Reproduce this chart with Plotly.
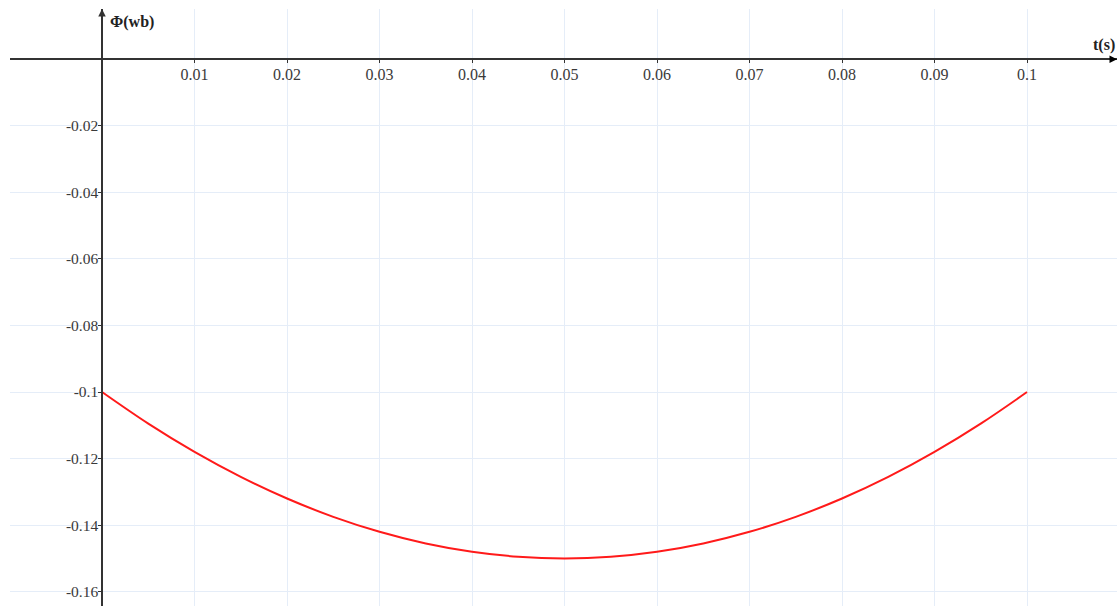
import plotly.graph_objects as go

# Data
t_vals = [0.0, 0.005, 0.01, 0.015, 0.02, 0.025, 0.03, 0.035, 0.04, 0.045, 0.05,
          0.055, 0.06, 0.065, 0.07, 0.075, 0.08, 0.085, 0.09, 0.095, 0.1]
phi_vals = [-0.1, -0.1095, -0.118, -0.1255, -0.132, -0.1375, -0.142, -0.1455, -0.148, -0.1495, -0.15,
            -0.1495, -0.148, -0.1455, -0.142, -0.1375, -0.132, -0.1255, -0.118, -0.1095, -0.1]

x_ticks = [0.01, 0.02, 0.03, 0.04, 0.05, 0.06, 0.07, 0.08, 0.09, 0.1]
x_tick_text = ["0.01", "0.02", "0.03", "0.04", "0.05", "0.06", "0.07", "0.08", "0.09", "0.1"]
y_ticks = [-0.02, -0.04, -0.06, -0.08, -0.1, -0.12, -0.14, -0.16]
y_tick_text = ["-0.02", "-0.04", "-0.06", "-0.08", "-0.1", "-0.12", "-0.14", "-0.16"]

x_range = [-0.00995, 0.10973]
y_range = [-0.1643, 0.01512]

x_pos = (0 - x_range[0]) / (x_range[1] - x_range[0])
y_pos = (0 - y_range[0]) / (y_range[1] - y_range[0])

font_serif = "Liberation Serif, Times New Roman, serif"
grid_col = "#e5edf8"
axis_col = "#333333"

fig = go.Figure()
fig.add_trace(go.Scatter(x=t_vals, y=phi_vals, mode="lines",
                         line=dict(color="#ff1a1a", width=2, shape="spline"),
                         hoverinfo="skip", showlegend=False))

fig.update_layout(
    width=1119, height=606,
    margin=dict(l=10, r=2, t=9, b=0),
    paper_bgcolor="white", plot_bgcolor="white",
    font=dict(family=font_serif, size=15, color="#333333"),
    xaxis=dict(range=x_range, anchor="free", position=y_pos,
               tickvals=x_ticks, ticktext=x_tick_text,
               showgrid=True, gridcolor=grid_col, gridwidth=1,
               zeroline=False, showline=True, linecolor=axis_col, linewidth=1.5,
               ticks="outside", ticklen=3, tickcolor=axis_col, ticklabelstandoff=-2,
               tickfont=dict(family=font_serif, size=16, color="#3a3a3a")),
    yaxis=dict(range=y_range, anchor="free", position=x_pos,
               tickvals=y_ticks, ticktext=y_tick_text,
               showgrid=True, gridcolor=grid_col, gridwidth=1,
               zeroline=False, showline=True, linecolor=axis_col, linewidth=1.5,
               ticks="outside", ticklen=3, tickcolor=axis_col, ticklabelstandoff=-3,
               tickfont=dict(family=font_serif, size=15.5, color="#3a3a3a")),
    annotations=[
        dict(text="<b>Φ(wb)</b>", x=0, y=1, xref="x", yref="paper",
             xanchor="left", yanchor="top", xshift=6, yshift=-2, showarrow=False,
             font=dict(family=font_serif, size=16, color="#222222")),
        dict(text="<b>t(s)</b>", x=1, y=0, xref="paper", yref="y",
             xanchor="right", yanchor="bottom", xshift=0, yshift=3, showarrow=False,
             font=dict(family=font_serif, size=16, color="#222222")),
        dict(x=0, y=1, xref="x", yref="paper", ax=0, ay=8,
             showarrow=True, arrowhead=2, arrowsize=1, arrowwidth=1.5, arrowcolor=axis_col, text=""),
        dict(x=1, y=0, xref="paper", yref="y", ax=-8, ay=0,
             showarrow=True, arrowhead=2, arrowsize=1, arrowwidth=1.5, arrowcolor="#000000", text=""),
    ],
)

fig.write_html("out.html",
               config={"displayModeBar": False},
               post_script="document.body.style.margin='0';document.body.style.overflow='hidden';")
